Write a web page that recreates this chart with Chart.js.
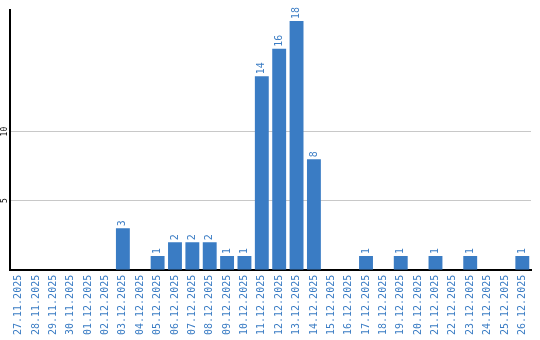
<!DOCTYPE html>
<html>
<head>
<meta charset="utf-8">
<script src="https://cdn.jsdelivr.net/npm/chart.js@4/dist/chart.umd.min.js"></script>
<style>
  html, body { margin: 0; padding: 0; background: #fff; }
  #wrap { width: 540px; height: 340px; }
</style>
</head>
<body>
<div id="wrap"><canvas id="chart" width="540" height="340"></canvas></div>
<script>
// Dates (categories)
const dates = [
  "27.11.2025", "28.11.2025", "29.11.2025", "30.11.2025", "01.12.2025",
  "02.12.2025", "03.12.2025", "04.12.2025", "05.12.2025", "06.12.2025",
  "07.12.2025", "08.12.2025", "09.12.2025", "10.12.2025", "11.12.2025",
  "12.12.2025", "13.12.2025", "14.12.2025", "15.12.2025", "16.12.2025",
  "17.12.2025", "18.12.2025", "19.12.2025", "20.12.2025", "21.12.2025",
  "22.12.2025", "23.12.2025", "24.12.2025", "25.12.2025", "26.12.2025"
];

// Counts per day
const counts = [0, 0, 0, 0, 0, 0, 3, 0, 1, 2, 2, 2, 1, 1, 14, 16, 18, 8, 0, 0, 1, 0, 1, 0, 1, 0, 1, 0, 0, 1];

// Y tick labels
const yTicks = [5, 10];

const BLUE = "#3a7cc4";

// Labels above bars + rotated y tick labels
const labelsPlugin = {
  id: "labelsPlugin",
  afterDatasetsDraw(chart) {
    const ctx = chart.ctx;
    const meta = chart.getDatasetMeta(0);
    ctx.save();
    ctx.fillStyle = BLUE;
    ctx.font = "10px 'DejaVu Sans Mono'";
    ctx.textAlign = "left";
    ctx.textBaseline = "middle";
    meta.data.forEach((bar, i) => {
      if (!counts[i]) return;
      ctx.save();
      ctx.translate(bar.x, bar.y - 2);
      ctx.rotate(-Math.PI / 2);
      ctx.fillText(String(counts[i]), 0, 0);
      ctx.restore();
    });

    // y tick labels, vertical
    const yScale = chart.scales.y;
    ctx.fillStyle = "#000";
    ctx.font = "8px 'DejaVu Sans Mono'";
    ctx.textAlign = "center";
    yTicks.forEach((v) => {
      ctx.save();
      ctx.translate(5, yScale.getPixelForValue(v));
      ctx.rotate(-Math.PI / 2);
      ctx.fillText(String(v), 0, 0);
      ctx.restore();
    });
    ctx.restore();
  }
};

new Chart(document.getElementById("chart"), {
  type: "bar",
  data: {
    labels: dates,
    datasets: [
      {
        data: counts,
        backgroundColor: BLUE,
        barPercentage: 0.8,
        categoryPercentage: 1,
      },
    ],
  },
  options: {
    responsive: false,
    animation: false,
    layout: { padding: { top: 10, right: 9, left: 10, bottom: 0 } },
    plugins: {
      legend: { display: false },
      tooltip: { enabled: false },
    },
    scales: {
      x: {
        grid: { display: false, drawTicks: false },
        border: { color: "#000", width: 2 },
        ticks: {
          color: BLUE,
          font: { family: "DejaVu Sans Mono", size: 10 },
          minRotation: 90,
          maxRotation: 90,
          autoSkip: false,
          padding: 5,
        },
      },
      y: {
        min: 0,
        max: 18.8,
        afterBuildTicks: (axis) => {
          axis.ticks = yTicks.map((v) => ({ value: v }));
        },
        grid: { color: "#c8c8c8", drawTicks: false },
        border: { color: "#000", width: 2 },
        ticks: { display: false },
      },
    },
  },
  plugins: [labelsPlugin],
});
</script>
</body>
</html>
